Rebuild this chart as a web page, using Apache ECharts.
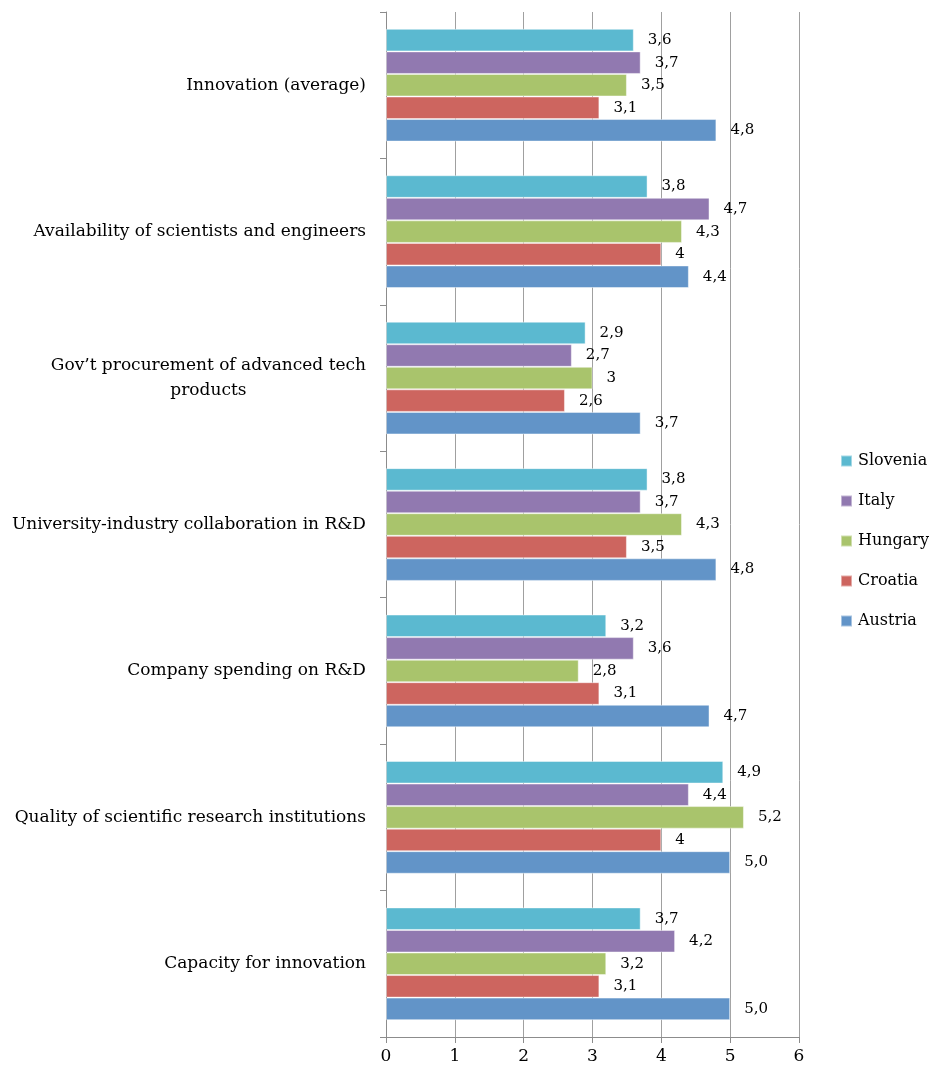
<!DOCTYPE html>
<html>
<head>
<meta charset="utf-8">
<script src="https://cdn.jsdelivr.net/npm/echarts@6/dist/echarts.min.js"></script>
<style>
  html, body { margin: 0; padding: 0; background: #ffffff; }
  #chart { width: 933px; height: 1072px; }
</style>
</head>
<body>
<div id="chart"></div>
<script>
// Categories listed bottom to top along the category axis
const categories = [
  'Capacity for innovation',
  'Quality of scientific research institutions',
  'Company spending on R&D',
  'University-industry collaboration in R&D',
  'Gov\u2019t procurement of advanced tech\nproducts',
  'Availability of scientists and engineers',
  'Innovation (average)'
];

// Series drawn top to bottom inside each group
const countries = ['Slovenia', 'Italy', 'Hungary', 'Croatia', 'Austria'];

// Scores per country, same order as categories
const slovenia = [3.7, 4.9, 3.2, 3.8, 2.9, 3.8, 3.6];
const italy    = [4.2, 4.4, 3.6, 3.7, 2.7, 4.7, 3.7];
const hungary  = [3.2, 5.2, 2.8, 4.3, 3.0, 4.3, 3.5];
const croatia  = [3.1, 4.0, 3.1, 3.5, 2.6, 4.0, 3.1];
const austria  = [5.0, 5.0, 4.7, 4.8, 3.7, 4.4, 4.8];

// Printed value labels
const sloveniaLabels = ['3,7', '4,9', '3,2', '3,8', '2,9', '3,8', '3,6'];
const italyLabels    = ['4,2', '4,4', '3,6', '3,7', '2,7', '4,7', '3,7'];
const hungaryLabels  = ['3,2', '5,2', '2,8', '4,3', '3', '4,3', '3,5'];
const croatiaLabels  = ['3,1', '4', '3,1', '3,5', '2,6', '4', '3,1'];
const austriaLabels  = ['5,0', '5,0', '4,7', '4,8', '3,7', '4,4', '4,8'];

const xTicks = ['0', '1', '2', '3', '4', '5', '6'];

const values = [slovenia, italy, hungary, croatia, austria];
const labels = [sloveniaLabels, italyLabels, hungaryLabels, croatiaLabels, austriaLabels];
const colors = ['#5bb9d0', '#9179b0', '#a9c46c', '#cd655f', '#6294c8'];

const FONT = 'DejaVu Serif';

const chart = echarts.init(document.getElementById('chart'), null, { renderer: 'canvas' });

const series = countries.map((name, i) => ({
  name: name,
  type: 'bar',
  data: values[i],
  barGap: '0%',
  barCategoryGap: '23%',
  itemStyle: {
    color: colors[i],
    borderColor: 'rgba(255,255,255,0.45)',
    borderWidth: 1
  },
  label: {
    show: true,
    position: 'right',
    distance: 14,
    fontFamily: FONT,
    fontSize: 15,
    color: '#000000',
    formatter: p => labels[i][p.dataIndex]
  }
}));

chart.setOption({
  animation: false,
  backgroundColor: '#ffffff',
  grid: { left: 386, right: 134, top: 12, bottom: 35, containLabel: false },
  legend: {
    orient: 'vertical',
    left: 840,
    top: 453,
    padding: 0,
    itemWidth: 11,
    itemHeight: 11,
    itemGap: 24,
    data: countries,
    icon: 'rect',
    textStyle: { fontFamily: FONT, fontSize: 16, color: '#000000', padding: [0, 0, 0, 1] }
  },
  xAxis: {
    type: 'value',
    min: 0,
    max: 6,
    interval: 1,
    axisLine: { show: true, lineStyle: { color: '#8c8c8c', width: 1 } },
    axisTick: { show: true, length: 6, lineStyle: { color: '#8c8c8c' } },
    axisLabel: {
      margin: 11,
      fontFamily: FONT,
      fontSize: 17,
      color: '#000000',
      formatter: v => xTicks[v]
    },
    splitLine: { show: true, lineStyle: { color: '#a0a0a0', width: 1 } }
  },
  yAxis: {
    type: 'category',
    data: categories,
    axisLine: { show: true, lineStyle: { color: '#8c8c8c', width: 1 } },
    axisTick: { show: true, length: 6, lineStyle: { color: '#8c8c8c' } },
    axisLabel: {
      margin: 20,
      fontFamily: FONT,
      fontSize: 17,
      color: '#000000',
      align: 'right',
      lineHeight: 25,
      formatter: v => v.split('\n').map(s => '{c|' + s + '}').join('\n'),
      rich: {
        c: { align: 'center', fontFamily: FONT, fontSize: 17, color: '#000000', lineHeight: 25 }
      }
    },
    splitLine: { show: false }
  },
  series: series
});
</script>
</body>
</html>
